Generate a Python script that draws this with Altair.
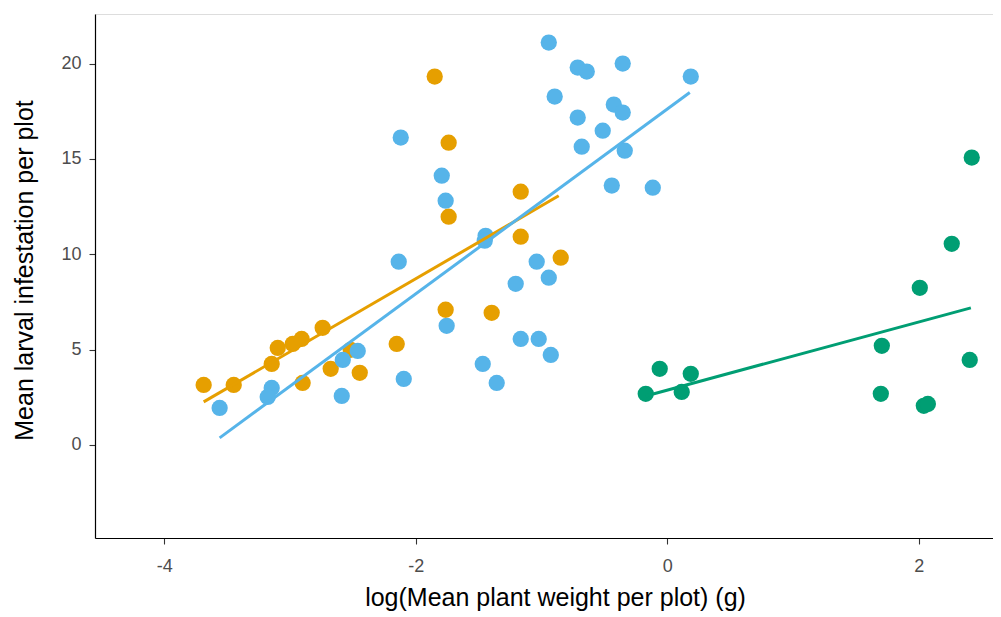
import altair as alt
import pandas as pd

# Point data
orange_x = [-3.686, -3.447, -3.145, -3.097, -2.978, -2.907, -2.740, -2.899, -2.676, -2.445,
            -2.517, -2.151, -1.849, -1.738, -1.738, -1.762, -1.396, -1.165, -1.165, -0.847]
orange_y = [3.15, 3.15, 4.25, 5.09, 5.30, 5.56, 6.14, 3.25, 3.99, 3.78,
            4.99, 5.30, 19.32, 15.85, 11.97, 7.09, 6.93, 13.28, 10.92, 9.82]

blue_x = [-3.559, -3.145, -3.177, -2.580, -2.461, -2.588, -2.095, -2.135, -2.119, -1.793,
          -1.762, -1.754, -1.444, -1.451, -1.467, -1.356, -1.205, -1.165, -1.038, -1.022,
          -0.942, -0.926, -0.942, -0.895, -0.712, -0.640, -0.712, -0.680, -0.513, -0.441,
          -0.425, -0.354, -0.354, -0.338, -0.115, 0.187]
blue_y = [1.94, 2.99, 2.52, 4.46, 4.93, 2.57, 3.46, 9.61, 16.12, 14.12,
          12.81, 6.25, 10.97, 10.71, 4.25, 3.25, 8.45, 5.56, 9.61, 5.56,
          8.77, 4.72, 21.10, 18.27, 19.79, 19.58, 17.17, 15.64, 16.48, 13.60,
          17.85, 17.43, 20.00, 15.43, 13.49, 19.32]

green_x = [-0.171, -0.060, 0.115, 0.187, 1.706, 1.698, 2.008, 2.040, 2.072, 2.262, 2.421, 2.405]
green_y = [2.68, 3.99, 2.78, 3.73, 5.20, 2.68, 8.24, 2.05, 2.15, 10.55, 15.07, 4.46]

# Fitted line end points
orange_fit_x = [-3.686, -0.863]
orange_fit_y = [2.26, 13.07]
blue_fit_x = [-3.559, 0.179]
blue_fit_y = [0.37, 18.48]
green_fit_x = [-0.171, 2.414]
green_fit_y = [2.57, 7.19]

x_ticks = [-4, -2, 0, 2]
y_ticks = [0, 5, 10, 15, 20]

groups = ["A", "B", "C"]
colors = ["#E69F00", "#56B4E9", "#009E73"]

pts = pd.concat([
    pd.DataFrame({"x": orange_x, "y": orange_y, "g": "A"}),
    pd.DataFrame({"x": blue_x, "y": blue_y, "g": "B"}),
    pd.DataFrame({"x": green_x, "y": green_y, "g": "C"}),
], ignore_index=True)
pts["order"] = range(len(pts))

fits = pd.concat([
    pd.DataFrame({"x": orange_fit_x, "y": orange_fit_y, "g": "A"}),
    pd.DataFrame({"x": blue_fit_x, "y": blue_fit_y, "g": "B"}),
    pd.DataFrame({"x": green_fit_x, "y": green_fit_y, "g": "C"}),
], ignore_index=True)

font = "Liberation Sans"
xscale = alt.Scale(domain=[-4.55, 2.59], nice=False, zero=False)
yscale = alt.Scale(domain=[-4.88, 22.6], nice=False, zero=False)
cscale = alt.Scale(domain=groups, range=colors)

xaxis = alt.Axis(values=x_ticks, title="log(Mean plant weight per plot) (g)",
                 labelExpr="'' + datum.value", labelPadding=13,
                 titlePadding=10, titleX=460)
yaxis = alt.Axis(values=y_ticks, title="Mean larval infestation per plot",
                 labelExpr="'' + datum.value", labelPadding=8, titlePadding=23,
                 titleY=256)

points = alt.Chart(pts).mark_circle(size=265, opacity=1).encode(
    x=alt.X("x:Q", scale=xscale, axis=xaxis),
    y=alt.Y("y:Q", scale=yscale, axis=yaxis),
    color=alt.Color("g:N", scale=cscale, legend=None),
    order="order:Q",
)

lines = alt.Chart(fits).mark_line(strokeWidth=3).encode(
    x=alt.X("x:Q", scale=xscale, axis=xaxis),
    y=alt.Y("y:Q", scale=yscale, axis=yaxis),
    color=alt.Color("g:N", scale=cscale, legend=None),
    detail="g:N",
)

chart = alt.layer(points, lines).properties(
    width=898, height=524,
    autosize=alt.AutoSizeParams(type="none"),
    padding={"left": 87, "top": 6, "right": 0, "bottom": 82},
).configure_view(stroke=None).configure(background="white").configure_axis(
    grid=False, domainColor="black", domainWidth=1.2, tickColor="#333333",
    tickSize=6, tickWidth=1.1, labelColor="#4D4D4D", labelFontSize=18,
    labelFont=font, titleFont=font, titleFontSize=25, titleFontWeight="normal",
    titleColor="black",
)

chart.save("out.html", embed_options={"renderer": "svg", "actions": False})
